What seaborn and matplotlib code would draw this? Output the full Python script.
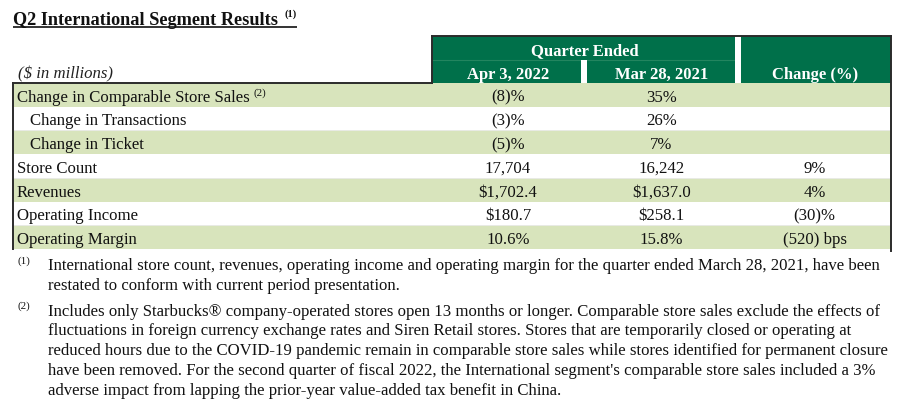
import matplotlib
matplotlib.use("Agg")
import matplotlib.pyplot as plt
import seaborn as sns
from matplotlib.patches import Rectangle

sns.set_theme(style="white")
plt.rcParams['font.family'] = ['Liberation Serif', 'DejaVu Serif']

# ---------------- data ----------------
title = "Q2 International Segment Results"
unit_label = "($ in millions)"
period_header = "Quarter Ended"
col_headers = ["Apr 3, 2022", "Mar 28, 2021", "Change (%)"]
row_labels = ["Change in Comparable Store Sales", "Change in Transactions", "Change in Ticket",
              "Store Count", "Revenues", "Operating Income", "Operating Margin"]
row_indent = [0, 1, 1, 0, 0, 0, 0]
row_note = ["(2)", "", "", "", "", "", ""]
apr_2022 = ["(8)%", "(3)%", "(5)%", "17,704", "$1,702.4", "$180.7", "10.6%"]
mar_2021 = ["35%", "26%", "7%", "16,242", "$1,637.0", "$258.1", "15.8%"]
change = ["", "", "", "9%", "4%", "(30)%", "(520) bps"]
row_shaded = [True, False, True, False, True, False, True]
note_marks = ["(1)", "(2)"]
note_lines = [
    ["International store count, revenues, operating income and operating margin for the quarter ended March 28, 2021, have been",
     "restated to conform with current period presentation."],
    ["Includes only Starbucks\u00ae company-operated stores open 13 months or longer. Comparable store sales exclude the effects of",
     "fluctuations in foreign currency exchange rates and Siren Retail stores. Stores that are temporarily closed or operating at",
     "reduced hours due to the COVID-19 pandemic remain in comparable store sales while stores identified for permanent closure",
     "have been removed. For the second quarter of fiscal 2022, the International segment's comparable store sales included a 3%",
     "adverse impact from lapping the prior-year value-added tax benefit in China."],
]

# ---------------- layout ----------------
W, H = 904, 410
DPI = 100
fig = plt.figure(figsize=(W / DPI, H / DPI), dpi=DPI)
ax = fig.add_axes([0, 0, 1, 1])
ax.set_xlim(0, W)
ax.set_ylim(H, 0)
ax.axis("off")

def px(p):
    return p * 72.0 / DPI

DARK = "#00704A"
LIGHT = "#D8E4BC"
BORDER = "#2b2b2b"
FS = px(16.7)
FS_SUP = px(11)

def txt(x, y, s, size=FS, **kw):
    kw.setdefault("va", "baseline")
    return ax.text(x, y, s, fontsize=size, parse_math=False, **kw)

# title
txt(13, 25, title, size=px(18.3), weight="bold", color="#111111")
txt(284.5, 17, "(1)", size=px(10.5), weight="bold", color="#111111")
ax.plot([13, 297], [28, 28], color="#111111", lw=1.2, solid_capstyle="butt")

# header block
left, x1, x2, x3, right = 13, 432, 584, 738.5, 891
top, mid, hbot = 37, 61, 84
ax.add_patch(Rectangle((x1, top), right - x1, hbot - top, facecolor=DARK, edgecolor="none", zorder=1))
ax.plot([x1, x3], [mid, mid], color="#23855f", lw=0.8, zorder=1.5)
# white separators
ax.add_patch(Rectangle((x2 - 3, mid), 6, hbot - mid, facecolor="white", edgecolor="none", zorder=2))
ax.add_patch(Rectangle((x3 - 3, top), 6, hbot - top, facecolor="white", edgecolor="none", zorder=2))
hb = dict(color="white", weight="bold", ha="center", size=px(16.6))
txt((x1 + x3) / 2, 55, period_header, **hb)
centers = [(x1 + x2) / 2, (x2 + x3) / 2, (x3 + right) / 2]
for c, h in zip(centers, col_headers):
    txt(c, 79, h, **hb)
txt(18, 78, unit_label, style="italic", color="#222222")

# body rows
row_h = (250 - hbot) / len(row_labels)
for i, lab in enumerate(row_labels):
    y0 = hbot + i * row_h
    if row_shaded[i]:
        ax.add_patch(Rectangle((left, y0), right - left, row_h, facecolor=LIGHT, edgecolor="none"))
    else:
        ax.plot([left, right], [y0 + row_h, y0 + row_h], color="#ececec", lw=0.6)
    base = y0 + row_h - 6
    lx = 17 + 13 * row_indent[i]
    t = txt(lx, base, lab, color="#111111")
    if row_note[i]:
        fig.canvas.draw()
        bb = t.get_window_extent()
        txt(bb.x1 + 4, base - 6, row_note[i], size=FS_SUP, color="#111111")
    for c, v in zip(centers, [apr_2022[i], mar_2021[i], change[i]]):
        if v:
            txt(c, base, v, ha="center", color="#111111")

# borders
bl = dict(color=BORDER, lw=1.4, solid_capstyle="projecting", zorder=3)
ax.plot([left, left], [hbot, 250], **bl)
ax.plot([left, x1], [hbot, hbot], **bl)
ax.plot([x1, x1], [hbot, top], **bl)
ax.plot([x1, right], [top, top], **bl)
ax.plot([right, right], [top, 252], **bl)

# footnotes
y = 270
for mark, lines in zip(note_marks, note_lines):
    txt(18, y - 6.5, mark, size=FS_SUP, color="#111111")
    for ln in lines:
        txt(48, y, ln, color="#111111")
        y += 19.8
    y += 6

fig.savefig("out.png", dpi=DPI)
